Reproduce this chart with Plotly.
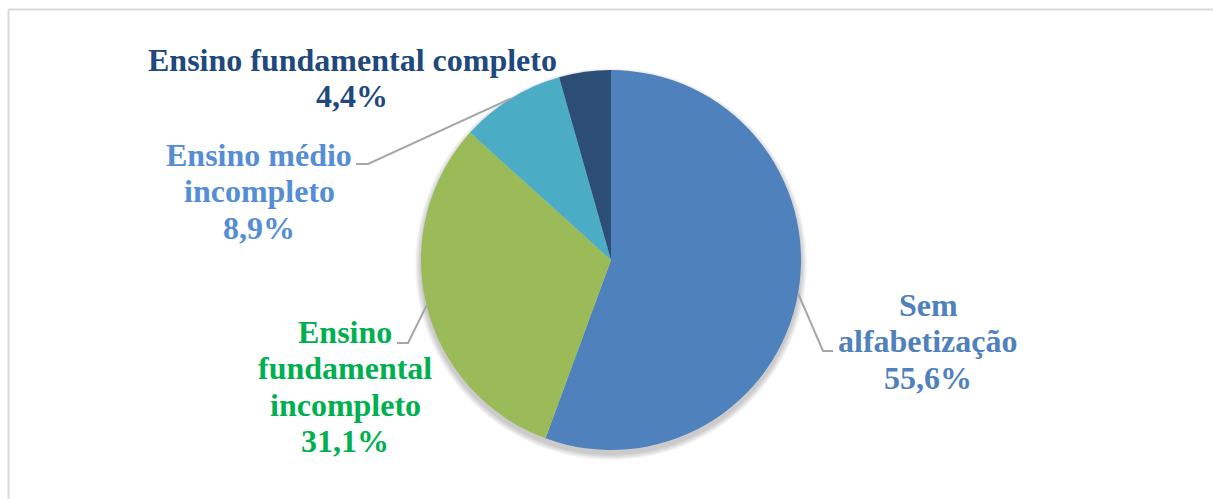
import math
import plotly.graph_objects as go

# Distribution by schooling level
categories = [
    "Sem alfabetização",
    "Ensino fundamental incompleto",
    "Ensino médio incompleto",
    "Ensino fundamental completo",
]
values = [55.6, 31.1, 8.9, 4.4]

# Label text broken into lines, as drawn next to each slice
label_lines = [
    ["Sem", "alfabetização"],
    ["Ensino", "fundamental", "incompleto"],
    ["Ensino médio", "incompleto"],
    ["Ensino fundamental completo"],
]

slice_colors = ["#4F81BD", "#9BBB59", "#4BACC6", "#2C4D75"]
label_colors = ["#4F81BD", "#00B050", "#558ED5", "#1F497D"]

W, H = 1213, 499
CX, CY, R = 611, 260, 190          # pie centre and radius in pixels
FONT = 32
LINE_STEP = 36.5

# label block centre-x and first-line baseline (pixels)
label_pos = [(928, 315), (345, 342), (259, 165), (352, 70)]
# leader elbow and end point (pixels); None = no leader
leaders = [((823, 351), (833, 351)), ((408, 343), (397, 343)),
           ((368, 164), (356, 164)), None]


def px(x):
    return x / W


def py(y):
    return 1 - y / H


fig = go.Figure()
fig.add_trace(go.Pie(
    labels=categories,
    values=values,
    sort=False,
    direction="clockwise",
    rotation=0,
    textinfo="none",
    hoverinfo="label+percent",
    marker=dict(colors=slice_colors, line=dict(width=0)),
    domain=dict(x=[px(CX - R), px(CX + R)], y=[py(CY + R), py(CY - R)]),
    showlegend=False,
))

annotations = []
shapes = []

# soft drop shadow under the pie
for k in range(6):
    r = R + 1 + k
    shapes.append(dict(type="circle", xref="paper", yref="paper", layer="below",
                       x0=px(CX - r), x1=px(CX + r),
                       y0=py(CY + 4 + r), y1=py(CY + 4 - r),
                       fillcolor="rgba(0,0,0,0.035)", line=dict(width=0)))

total = sum(values)
cum = 0.0
for i, v in enumerate(values):
    mid = (cum + v / 2) / total
    cum += v
    ang = 2 * math.pi * mid
    sx = CX + R * math.sin(ang)
    sy = CY - R * math.cos(ang)

    lines = label_lines[i] + [f"{v:.1f}%".replace(".", ",")]
    lx, ly = label_pos[i]
    for k, t in enumerate(lines):
        base = ly + k * LINE_STEP
        annotations.append(dict(
            x=px(lx), y=py(base - 0.32 * FONT), xref="paper", yref="paper",
            text=f"<b>{t}</b>", showarrow=False,
            xanchor="center", yanchor="middle",
            font=dict(family="Liberation Serif", size=FONT, color=label_colors[i]),
        ))

    if leaders[i] is not None:
        (ex, ey), (tx, ty) = leaders[i]
        path = f"M {px(sx)} {py(sy)} L {px(ex)} {py(ey)} L {px(tx)} {py(ty)}"
        shapes.append(dict(type="path", path=path, xref="paper", yref="paper",
                           line=dict(color="#A6A6A6", width=2)))

# chart-area frame (top and left edges visible)
shapes.append(dict(type="line", xref="paper", yref="paper",
                   x0=px(8.5), x1=px(1230), y0=py(9.5), y1=py(9.5),
                   line=dict(color="#D9D9D9", width=2)))
shapes.append(dict(type="line", xref="paper", yref="paper",
                   x0=px(8.5), x1=px(8.5), y0=py(9.5), y1=py(520),
                   line=dict(color="#D9D9D9", width=2)))

fig.update_layout(
    width=W, height=H,
    margin=dict(l=0, r=0, t=0, b=0),
    paper_bgcolor="white",
    plot_bgcolor="white",
    annotations=annotations,
    shapes=shapes,
)

fig.write_html("out.html")
